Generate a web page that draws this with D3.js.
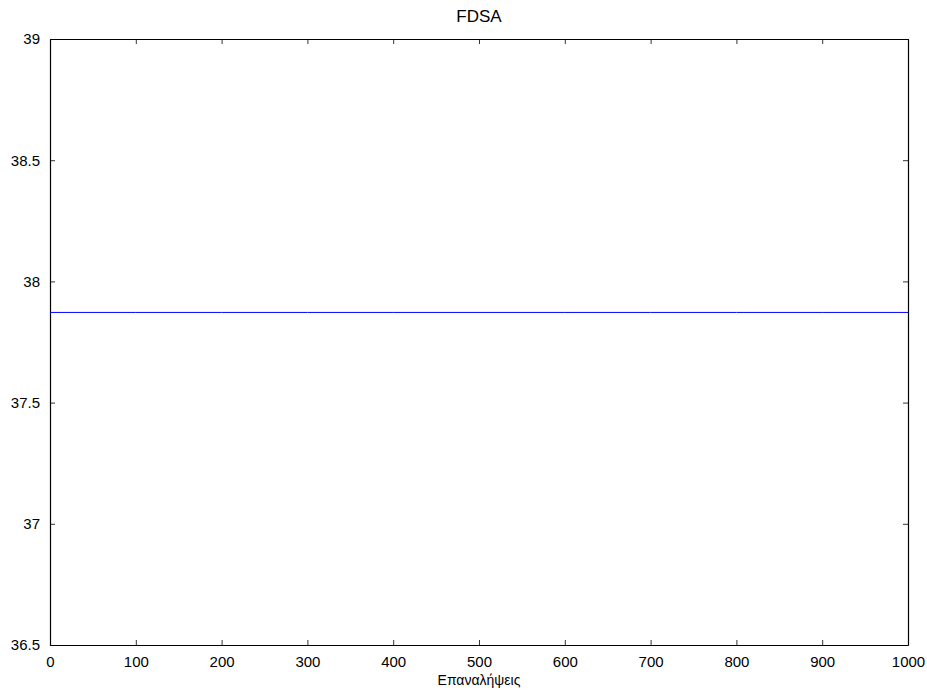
<!DOCTYPE html>
<html>
<head>
<meta charset="utf-8">
<script src="https://cdn.jsdelivr.net/npm/d3@7"></script>
<style>
  body { margin: 0; background: #fff; }
  text { font-family: "Liberation Sans", Arial, sans-serif; }
</style>
</head>
<body>
<div id="chart"></div>
<script>
// iterations and the (constant) FDSA value
var iterations = [0, 100, 200, 300, 400, 500, 600, 700, 800, 900, 1000];
var values = [37.872, 37.872, 37.872, 37.872, 37.872, 37.872, 37.872, 37.872, 37.872, 37.872, 37.872];
var xTicks = [0, 100, 200, 300, 400, 500, 600, 700, 800, 900, 1000];
var yTicks = [36.5, 37, 37.5, 38, 38.5, 39];
var title = "FDSA";
var xLabel = "Επαναλήψεις";

var W = 927, H = 691;
var margin = { top: 39, right: 19, bottom: 46, left: 50 };
var width = W - margin.left - margin.right,
  height = H - margin.top - margin.bottom;

var svg = d3.select("#chart").append("svg")
  .attr("width", W).attr("height", H)
  .append("g")
  .attr("transform", "translate(" + margin.left + "," + margin.top + ")");

var x = d3.scaleLinear().domain([0, 1000]).range([0, width]);
var y = d3.scaleLinear().domain([36.5, 39]).range([height, 0]);

// axes with inward ticks, mirrored on top/right
var fmt = function (d) { return String(d); };
var gB = svg.append("g").attr("transform", "translate(0," + height + ")")
  .call(d3.axisBottom(x).tickValues(xTicks).tickFormat(fmt).tickSizeInner(-5).tickSizeOuter(0).tickPadding(11));
var gT = svg.append("g")
  .call(d3.axisTop(x).tickValues(xTicks).tickFormat("").tickSizeInner(-5).tickSizeOuter(0));
var gL = svg.append("g")
  .call(d3.axisLeft(y).tickValues(yTicks).tickFormat(fmt).tickSizeInner(-5).tickSizeOuter(0).tickPadding(10));
var gR = svg.append("g").attr("transform", "translate(" + width + ",0)")
  .call(d3.axisRight(y).tickValues(yTicks).tickFormat("").tickSizeInner(-5).tickSizeOuter(0));

[gB, gT, gL, gR].forEach(function (g) {
  g.selectAll(".domain").attr("stroke", "#000").attr("stroke-width", 1.2);
  g.selectAll(".tick line").attr("stroke", "#000").attr("stroke-width", 0.8);
  g.selectAll("text").attr("font-size", 15).attr("fill", "#000")
    .style("font-family", "'Liberation Sans', Arial, sans-serif");
});

var line = d3.line()
  .x(function (d, i) { return x(iterations[i]); })
  .y(function (d) { return y(d); });

svg.append("path")
  .datum(values)
  .attr("fill", "none")
  .attr("stroke", "#0000ff")
  .attr("stroke-width", 1)
  .attr("d", line);

svg.append("text")
  .attr("x", width / 2).attr("y", -17)
  .attr("text-anchor", "middle")
  .attr("font-size", 17)
  .text(title);

svg.append("text")
  .attr("x", width / 2).attr("y", height + 40)
  .attr("text-anchor", "middle")
  .attr("font-size", 14)
  .text(xLabel);
</script>
</body>
</html>
